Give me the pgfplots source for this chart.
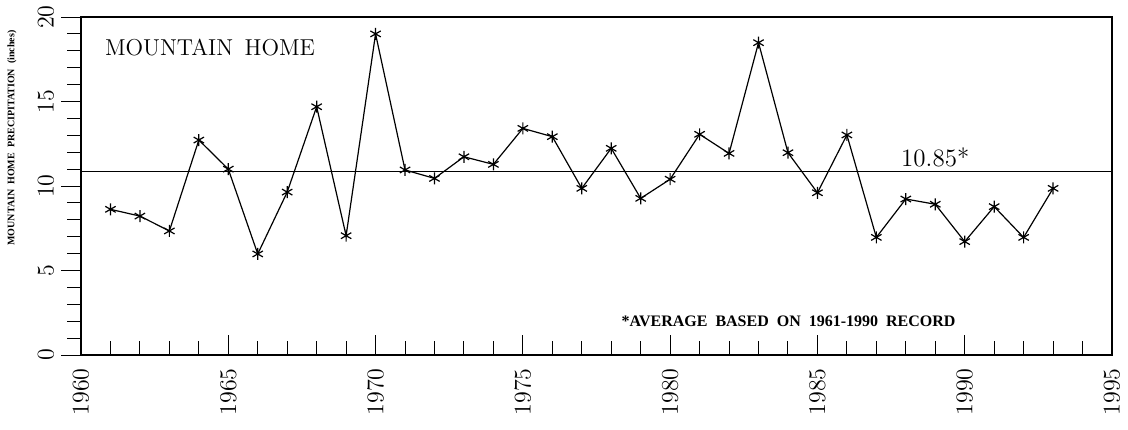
\documentclass[border=0pt]{standalone}
\usepackage{fontspec}
\newfontfamily\lserif{Liberation Serif}
\usepackage{pgfplots}
\pgfplotsset{compat=1.18}
\begin{document}
\begin{tikzpicture}
\begin{axis}[
  scale only axis, width=515.5pt, height=169pt,
  xmin=1960, xmax=1995, ymin=0, ymax=20,
  xtick={1960,1965,...,1995}, minor x tick num=4,
  ytick={0,5,...,20}, minor y tick num=4,
  xtick pos=left, ytick pos=left,
  xtick align=inside, ytick align=outside,
  major tick length=10pt, minor tick length=7pt,
  every tick/.style={black, line width=0.5pt},
  axis line style={line width=0.6pt},
  x tick label style={rotate=90, anchor=east, inner sep=0.5pt, font=\fontsize{12.5}{12}\selectfont, /pgf/number format/1000 sep={}},
  y tick label style={rotate=90, anchor=south, inner sep=0.5pt, font=\fontsize{12.5}{12}\selectfont},
  xticklabel shift=6pt,
  yticklabel shift=3pt,
  clip=false,
]
\addplot[black, line width=0.6pt, no marks] coordinates {(1960,10.85) (1995,10.85)};
\addplot[black, line width=0.6pt, mark=asterisk, mark size=3pt, mark options={line width=0.6pt}] coordinates {
(1961,8.62) (1962,8.22) (1963,7.34) (1964,12.72) (1965,11.0) (1966,5.98) (1967,9.64) (1968,14.69)
(1969,7.06) (1970,19.0) (1971,10.95) (1972,10.45) (1973,11.73) (1974,11.28) (1975,13.41) (1976,12.92)
(1977,9.86) (1978,12.23) (1979,9.27) (1980,10.4) (1981,13.06) (1982,11.93) (1983,18.48) (1984,11.97)
(1985,9.6) (1986,13.02) (1987,6.96) (1988,9.23) (1989,8.92) (1990,6.71) (1991,8.78) (1992,6.96) (1993,9.86)};
\node[font=\fontsize{11.5}{12}\selectfont] at (axis cs:1964.38,18.17) {MOUNTAIN\hspace{0.5em}HOME};
\node[font=\fontsize{12.5}{12}\selectfont] at (axis cs:1989,11.69) {10.85*};
\node[font=\lserif\fontsize{8}{9}\selectfont\bfseries] at (axis cs:1984.02,1.97) {*AVERAGE\ \ BASED\ \ ON\ \ 1961-1990\ \ RECORD};
\node[rotate=90, font=\lserif\fontsize{5}{6}\selectfont\bfseries] at ([xshift=-34.5pt]rel axis cs:0,0.642) {MOUNTAIN\ \ HOME\ \ PRECIPITATION\ \ (inches)};
\path ([shift={(-40.5pt,-37pt)}]rel axis cs:0,0) rectangle ([shift={(8pt,8.5pt)}]rel axis cs:1,1);
\end{axis}
\end{tikzpicture}
\end{document}
